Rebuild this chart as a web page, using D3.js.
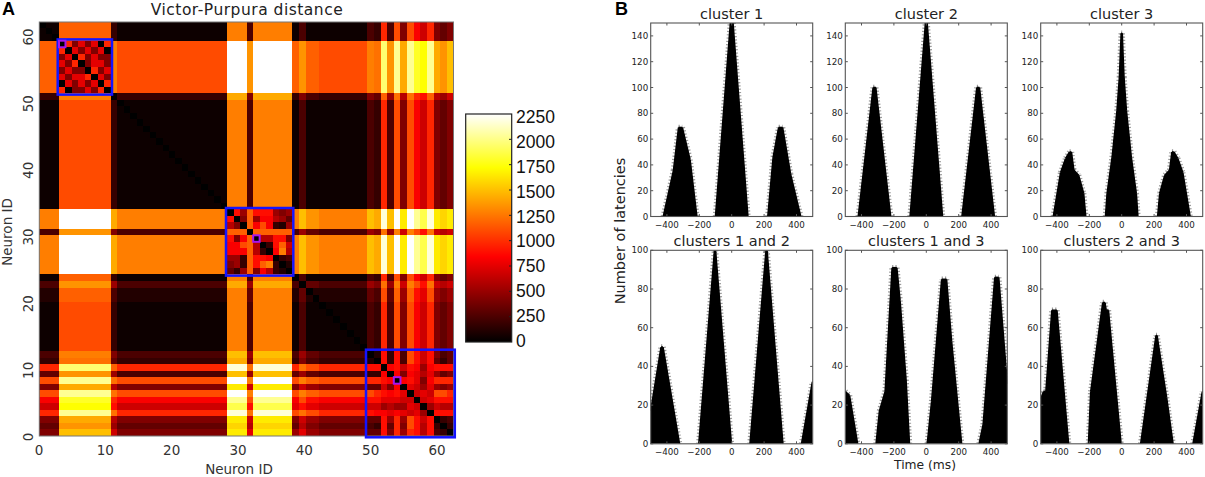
<!DOCTYPE html>
<html>
<head>
<meta charset="utf-8">
<script src="https://cdn.jsdelivr.net/npm/d3@7"></script>
<style>
body { margin: 0; background: #fff; }
svg { display: block; }
</style>
</head>
<body>
<div id="svg_placer"></div>
<script>
var width = 1205, height = 477;

// heatmap cells, top row first, one char per cell
// char = base 31 index into levelValues
var levelValues = [0, 50, 105, 170, 250, 330, 420, 510, 600, 675, 750, 825, 900, 975, 1100, 1170, 1230, 1275, 1350, 1425, 1500, 1575, 1650, 1725, 1800, 1875, 1950, 2025, 2100, 2175, 2250];
var heatRows = [
"011 ffffffff 3 11111111111111111 hhh 4 hhhhhh 1 4 11 1111111 43d4e6eb9d656",
"101 ffffffff 3 11111111111111111 hhh 4 hhhhhh 1 4 11 1111111 43d4e6eb9d656",
"110 ffffffff 3 11111111111111111 hhh 4 hhhhhh 1 4 11 1111111 43d4e6eb9d656",
"fff 0d6a6a0d h eeeeeeeeeeeeeeeee uuu i uuuuuu f i ff eeeeeee hgqirjronrjik",
"fff d0a6a6a0 h eeeeeeeeeeeeeeeee uuu i uuuuuu f i ff eeeeeee hgqirjronrjik",
"fff 6a0d6a66 h eeeeeeeeeeeeeeeee uuu i uuuuuu f i ff eeeeeee hgqirjronrjik",
"fff a6d06aa6 h eeeeeeeeeeeeeeeee uuu i uuuuuu f i ff eeeeeee hgqirjronrjik",
"fff 6a660d6a h eeeeeeeeeeeeeeeee uuu i uuuuuu f i ff eeeeeee hgqirjronrjik",
"fff a6aad0a6 h eeeeeeeeeeeeeeeee uuu i uuuuuu f i ff eeeeeee hgqirjronrjik",
"fff 0a6a6a0d h eeeeeeeeeeeeeeeee uuu i uuuuuu f i ff eeeeeee hgqirjronrjik",
"fff d066a6d0 h eeeeeeeeeeeeeeeee uuu i uuuuuu f i ff eeeeeee hgqirjronrjik",
"333 hhhhhhhh 0 33333333333333333 jjj 6 jjjjjj 3 6 44 3333333 65f7g8gdcf879",
"111 eeeeeeee 3 01111111111111111 hhh 4 hhhhhh 1 4 11 1111111 43d4e6eb9d656",
"111 eeeeeeee 3 10111111111111111 hhh 4 hhhhhh 1 4 11 1111111 43d4e6eb9d656",
"111 eeeeeeee 3 11011111111111111 hhh 4 hhhhhh 1 4 11 1111111 43d4e6eb9d656",
"111 eeeeeeee 3 11101111111111111 hhh 4 hhhhhh 1 4 11 1111111 43d4e6eb9d656",
"111 eeeeeeee 3 11110111111111111 hhh 4 hhhhhh 1 4 11 1111111 43d4e6eb9d656",
"111 eeeeeeee 3 11111011111111111 hhh 4 hhhhhh 1 4 11 1111111 43d4e6eb9d656",
"111 eeeeeeee 3 11111101111111111 hhh 4 hhhhhh 1 4 11 1111111 43d4e6eb9d656",
"111 eeeeeeee 3 11111110111111111 hhh 4 hhhhhh 1 4 11 1111111 43d4e6eb9d656",
"111 eeeeeeee 3 11111111011111111 hhh 4 hhhhhh 1 4 11 1111111 43d4e6eb9d656",
"111 eeeeeeee 3 11111111101111111 hhh 4 hhhhhh 1 4 11 1111111 43d4e6eb9d656",
"111 eeeeeeee 3 11111111110111111 hhh 4 hhhhhh 1 4 11 1111111 43d4e6eb9d656",
"111 eeeeeeee 3 11111111111011111 hhh 4 hhhhhh 1 4 11 1111111 43d4e6eb9d656",
"111 eeeeeeee 3 11111111111101111 hhh 4 hhhhhh 1 4 11 1111111 43d4e6eb9d656",
"111 eeeeeeee 3 11111111111110111 hhh 4 hhhhhh 1 4 11 1111111 43d4e6eb9d656",
"111 eeeeeeee 3 11111111111111011 hhh 4 hhhhhh 1 4 11 1111111 43d4e6eb9d656",
"111 eeeeeeee 3 11111111111111101 hhh 4 hhhhhh 1 4 11 1111111 43d4e6eb9d656",
"111 eeeeeeee 3 11111111111111110 hhh 4 hhhhhh 1 4 11 1111111 43d4e6eb9d656",
"hhh uuuuuuuu j hhhhhhhhhhhhhhhhh 0c7fccc767 h k ii hhhhhhh kjtkumurptmlm",
"hhh uuuuuuuu j hhhhhhhhhhhhhhhhh c06f7bb875 h k ii hhhhhhh kjtkumurptmlm",
"hhh uuuuuuuu j hhhhhhhhhhhhhhhhh 860fbeb327 h k ii hhhhhhh kjtkumurptmlm",
"444 iiiiiiii 6 44444444444444444 fff0ffffff 4 7 55 4444444 76g7h9hecg989",
"hhh uuuuuuuu j hhhhhhhhhhhhhhhhh c6bf088cc6 h k ii hhhhhhh kjtkumurptmlm",
"hhh uuuuuuuu j hhhhhhhhhhhhhhhhh bbef803cf9 h k ii hhhhhhh kjtkumurptmlm",
"hhh uuuuuuuu j hhhhhhhhhhhhhhhhh bbbf830bh8 h k ii hhhhhhh kjtkumurptmlm",
"hhh uuuuuuuu j hhhhhhhhhhhhhhhhh 773fccb034 h k ii hhhhhhh kjtkumurptmlm",
"hhh uuuuuuuu j hhhhhhhhhhhhhhhhh 673fcfh302 h k ii hhhhhhh kjtkumurptmlm",
"hhh uuuuuuuu j hhhhhhhhhhhhhhhhh 537f6b8320 h k ii hhhhhhh kjtkumurptmlm",
"111 ffffffff 3 11111111111111111 hhh 4 hhhhhh 0 4 11 1111111 43d4e6eb9d656",
"444 iiiiiiii 7 44444444444444444 jjj 7 jjjjjj 4 0 55 4444444 76g7h9hecg989",
"222 ffffffff 4 22222222222222222 hhh 5 hhhhhh 2 5 02 2222222 54e5f7fcae767",
"222 ffffffff 4 22222222222222222 hhh 5 hhhhhh 2 5 20 2222222 54e5f7fcae767",
"111 eeeeeeee 3 11111111111111111 hhh 4 hhhhhh 1 4 11 0111111 43d4e6eb9d656",
"111 eeeeeeee 3 11111111111111111 hhh 4 hhhhhh 1 4 11 1011111 43d4e6eb9d656",
"111 eeeeeeee 3 11111111111111111 hhh 4 hhhhhh 1 4 11 1101111 43d4e6eb9d656",
"111 eeeeeeee 3 11111111111111111 hhh 4 hhhhhh 1 4 11 1110111 43d4e6eb9d656",
"111 eeeeeeee 3 11111111111111111 hhh 4 hhhhhh 1 4 11 1111011 43d4e6eb9d656",
"111 eeeeeeee 3 11111111111111111 hhh 4 hhhhhh 1 4 11 1111101 43d4e6eb9d656",
"111 eeeeeeee 3 11111111111111111 hhh 4 hhhhhh 1 4 11 1111110 43d4e6eb9d656",
"444 hhhhhhhh 6 44444444444444444 kkk 7 kkkkkk 4 7 55 4444444 02c3c4ec9c645",
"333 gggggggg 5 33333333333333333 jjj 6 jjjjjj 3 6 44 3333333 20c3c4ec9c535",
"ddd qqqqqqqq f ddddddddddddddddd ttt g tttttt d g ee ddddddd cc0bc9cb7bccc",
"555 iiiiiiii 7 44444444444444444 kkk 7 kkkkkk 5 7 55 4444444 33b0b6ba8a756",
"eee rrrrrrrr g eeeeeeeeeeeeeeeee uuu h uuuuuu e h ff eeeeeee ddcb0bca6bddd",
"666 jjjjjjjj 8 66666666666666666 mmm 9 mmmmmm 6 9 77 6666666 5596b0a97a767",
"eee rrrrrrrr g eeeeeeeeeeeeeeeee uuu h uuuuuu e h ff eeeeeee edcbca09a9eed",
"bbb oooooooo d bbbbbbbbbbbbbbbbb rrr e rrrrrr b e cc bbbbbbb ccaaa9909accc",
"999 nnnnnnnn c 99999999999999999 ppp c pppppp a c aa 9999999 997877a907988",
"ddd rrrrrrrr g ddddddddddddddddd ttt g tttttt e g ee ddddddd cbbaba9a70ccc",
"666 jjjjjjjj 8 66666666666666666 mmm 9 mmmmmm 6 9 77 6666666 55c7d7ec9c034",
"555 iiiiiiii 7 55555555555555555 lll 8 llllll 5 8 66 5555555 43c5d6ec8c303",
"666 kkkkkkkk 9 66666666666666666 mmm a mmmmmm 7 a 77 6666666 55c6d7dc8c430"
];

// cell index edges of the neuron groups and the pixels where they sit in the picture
var groupEdges = [0, 3, 11, 29, 39, 50, 63];
var groupEdgesX = [39.3, 59, 110.7, 227.3, 292, 367.3, 453.5];
var groupEdgesY = [22, 40.7, 93.3, 209.3, 274.3, 351, 436];

var clusterStart = [3, 29, 50];
var clusterEnd = [11, 39, 63];
var markedCell = [3, 33, 54];

var neuronTicks = [0, 10, 20, 30, 40, 50, 60];
var barTicks = [0, 250, 500, 750, 1000, 1250, 1500, 1750, 2000, 2250];

// histogram outlines, [latency in ms, count]
var panelTitles = ["cluster 1", "cluster 2", "cluster 3", "clusters 1 and 2", "clusters 1 and 3", "clusters 2 and 3"];
var cluster1 = [[-500,0],[-422,0],[-359,36],[-328,69],[-305,69],[-257,44],[-215,0],[-100,0],[-8,150],[8,150],[100,0],[223,0],[256,46],[290,69],[314,69],[363,33],[426,0],[500,0]];
var cluster2 = [[-500,0],[-420,0],[-328,100],[-312,100],[-220,0],[-100,0],[-5,150],[5,150],[100,0],[220,0],[312,100],[328,100],[420,0],[500,0]];
var cluster3 = [[-500,0],[-422,0],[-377,34],[-346,45],[-322,50],[-310,50],[-296,36],[-266,32],[-235,18],[-222,0],[-100,0],[-90,18],[-59,46],[-29,82],[-14,108],[-3,142],[3,142],[14,108],[29,82],[59,46],[90,18],[100,0],[222,0],[235,18],[266,32],[296,36],[310,50],[322,50],[346,45],[377,34],[422,0],[500,0]];
var clusters12 = [[-500,17],[-436,50],[-424,50],[-322,0],[-203,0],[-106,100],[-100,100],[-2,0],[113,0],[212,100],[218,100],[316,0],[431,0],[498,32],[500,32]];
var clusters13 = [[-500,27],[-474,25],[-424,0],[-310,0],[-289,17],[-254,27],[-211,91],[-182,91],[-162,74],[-125,33],[-104,0],[6,0],[33,22],[95,85],[125,85],[156,53],[218,0],[326,0],[351,10],[423,86],[447,86],[500,31]];
var clusters23 = [[-500,23],[-482,27],[-468,27],[-431,69],[-400,69],[-328,0],[-205,0],[-191,27],[-117,73],[-103,73],[-97,69],[-82,69],[-4,0],[117,0],[212,56],[218,56],[277,24],[317,0],[440,0],[498,27],[500,27]];
var panelData = [cluster1, cluster2, cluster3, clusters12, clusters13, clusters23];

var panelLeft = [650.7, 845.3, 1040.7, 650.7, 845.3, 1040.7];
var panelTop = [23, 23, 23, 250.3, 250.3, 250.3];
var panelMax = [150, 150, 150, 100, 100, 100];
var panelYTicks = [
  [0, 20, 40, 60, 80, 100, 120, 140], [0, 20, 40, 60, 80, 100, 120, 140], [0, 20, 40, 60, 80, 100, 120, 140],
  [0, 20, 40, 60, 80, 100], [0, 20, 40, 60, 80, 100], [0, 20, 40, 60, 80, 100]
];
var timeTicks = [-400, -200, 0, 200, 400];

var panelW = 162, panelH = 193.5;
var sans = "'DejaVu Sans', sans-serif";

var svg = d3.select('#svg_placer').append('svg').attr('width', width).attr('height', height);
var defs = svg.append('defs');

// the reference is a soft scan, a small blur gets the same look
defs.append('filter').attr('id', 'soft').append('feGaussianBlur').attr('stdDeviation', 0.45);

// same shape as the "hot" colormap in the colorbar
var hot = d3.scaleLinear()
  .domain([0, 840, 1720, 2250])
  .range(['#000000', '#ff0000', '#ffff00', '#ffffff'])
  .clamp(true);

var cellX = d3.scaleLinear().domain(groupEdges).range(groupEdgesX);
var cellY = d3.scaleLinear().domain(groupEdges).range(groupEdgesY);

var cells = [];
heatRows.forEach(function(row, r) {
  row.replace(/ /g, '').split('').forEach(function(ch, c) {
    cells.push({ r: r, c: c, value: levelValues[parseInt(ch, 31)] });
  });
});

var heat = svg.append('g').attr('class', 'heat')
  .attr('filter', 'url(#soft)')
  .attr('shape-rendering', 'crispEdges');
heat.selectAll('rect')
  .data(cells)
  .enter().append('rect')
  .attr('x', function(d) { return cellX(d.c); })
  .attr('y', function(d) { return cellY(d.r); })
  .attr('width', function(d) { return cellX(d.c + 1) - cellX(d.c) + 0.4; })
  .attr('height', function(d) { return cellY(d.r + 1) - cellY(d.r) + 0.4; })
  .style('fill', function(d) { return hot(d.value); });

svg.append('rect')
  .attr('x', 39.3).attr('y', 22).attr('width', 414.2).attr('height', 414)
  .style('fill', 'none').style('stroke', '#777').style('stroke-width', 1);

// cluster boxes
clusterStart.forEach(function(s, i) {
  var pad = 1.3;
  svg.append('rect')
    .attr('x', cellX(s) - pad)
    .attr('y', cellY(s) - pad)
    .attr('width', cellX(clusterEnd[i]) - cellX(s) + 2 * pad)
    .attr('height', cellY(clusterEnd[i]) - cellY(s) + 2 * pad)
    .style('fill', 'none').style('stroke', '#1414ff').style('stroke-width', 2.5);
  var m = markedCell[i];
  svg.append('rect')
    .attr('x', cellX(m))
    .attr('y', cellY(m))
    .attr('width', cellX(m + 1) - cellX(m))
    .attr('height', cellY(m + 1) - cellY(m))
    .style('fill', 'none').style('stroke', '#a614f0').style('stroke-width', 2);
});

// heatmap axes
var tickX = d3.scaleLinear().domain([0, 60]).range([39, 437]);
var tickY = d3.scaleLinear().domain([0, 60]).range([437, 37]);

neuronTicks.forEach(function(t) {
  svg.append('text').attr('x', tickX(t)).attr('y', 455)
    .attr('text-anchor', 'middle')
    .style('font', '13.5px ' + sans).style('fill', '#333').text(t);
  svg.append('text')
    .attr('transform', 'translate(33,' + tickY(t) + ') rotate(-90)')
    .attr('text-anchor', 'middle')
    .style('font', '13.5px ' + sans).style('fill', '#333').text(t);
});

svg.append('text').attr('x', 239).attr('y', 474).attr('text-anchor', 'middle')
  .style('font', '13.5px ' + sans).style('fill', '#333').text('Neuron ID');
svg.append('text').attr('transform', 'translate(12,232) rotate(-90)').attr('text-anchor', 'middle')
  .style('font', '13.5px ' + sans).style('fill', '#333').text('Neuron ID');
svg.append('text').attr('x', 247).attr('y', 15).attr('text-anchor', 'middle')
  .style('font', '15.5px ' + sans).style('letter-spacing', '0.5px').style('fill', '#222').text('Victor-Purpura distance');

svg.append('text').attr('x', 2).attr('y', 15)
  .style('font', "bold 18px 'Liberation Sans', sans-serif").text('A');
svg.append('text').attr('x', 615).attr('y', 15)
  .style('font', "bold 18px 'Liberation Sans', sans-serif").text('B');

// colorbar
var barY = d3.scaleLinear().domain([0, 2250]).range([342, 114]);
var barLabelY = d3.scaleLinear().domain([0, 2250]).range([341, 117]);
var grad = defs.append('linearGradient')
  .attr('id', 'hotgrad').attr('x1', 0).attr('x2', 0).attr('y1', 1).attr('y2', 0);
hot.domain().forEach(function(v) {
  grad.append('stop').attr('offset', v / 2250).attr('stop-color', hot(v));
});
svg.append('rect')
  .attr('x', 465.7).attr('y', barY(2250)).attr('width', 46).attr('height', barY(0) - barY(2250))
  .style('fill', 'url(#hotgrad)').style('stroke', '#222').style('stroke-width', 1.2);
barTicks.forEach(function(t) {
  if (t > 0 && t < 2250) {
    svg.append('line').attr('x1', 509).attr('x2', 511.7).attr('y1', barY(t)).attr('y2', barY(t))
      .style('stroke', '#222').style('stroke-width', 1);
  }
  svg.append('text').attr('x', 516).attr('y', barLabelY(t) + 6)
    .style('font', "17.5px 'Liberation Sans', sans-serif").style('fill', '#111').text(t);
});

// histogram panels
var tickFont = "8.7px " + sans;
panelData.forEach(function(data, i) {
  var g = svg.append('g').attr('class', 'panel');
  var x = d3.scaleLinear().domain([-500, 500]).range([panelLeft[i], panelLeft[i] + panelW]);
  var y = d3.scaleLinear().domain([0, panelMax[i]]).range([panelTop[i] + panelH, panelTop[i]]);

  var area = d3.area()
    .x(function(d) { return x(d[0]); })
    .y0(y(0))
    .y1(function(d) { return y(d[1]); });
  var line = d3.line()
    .x(function(d) { return x(d[0]); })
    .y(function(d) { return y(d[1]); });

  g.append('clipPath').attr('id', 'clip' + i).append('rect')
    .attr('x', panelLeft[i]).attr('y', panelTop[i]).attr('width', panelW).attr('height', panelH);

  // edges only, no caps along the empty baseline
  var edges = d3.pairs(data).filter(function(p) { return p[0][1] > 0 || p[1][1] > 0; });

  var clip = g.append('g').attr('clip-path', 'url(#clip' + i + ')');
  var body = clip.append('g').attr('filter', 'url(#soft)');
  body.selectAll('path.cap').data(edges).enter().append('path').attr('class', 'cap')
    .attr('d', line)
    .style('fill', 'none').style('stroke', '#9a9a9a').style('stroke-width', 5.5)
    .style('stroke-dasharray', '1.2 2.1');
  body.selectAll('path.bar').data(edges).enter().append('path').attr('class', 'bar')
    .attr('d', line)
    .style('fill', 'none').style('stroke', '#000').style('stroke-width', 1.6);
  body.append('path').datum(data).attr('d', area).style('fill', '#000');

  g.append('rect')
    .attr('x', panelLeft[i]).attr('y', panelTop[i]).attr('width', panelW).attr('height', panelH)
    .style('fill', 'none').style('stroke', '#555').style('stroke-width', 1.1);

  timeTicks.forEach(function(t) {
    g.append('line').attr('x1', x(t)).attr('x2', x(t)).attr('y1', y(0)).attr('y2', y(0) - 2.5).style('stroke', '#555');
    g.append('line').attr('x1', x(t)).attr('x2', x(t)).attr('y1', panelTop[i]).attr('y2', panelTop[i] + 2.5).style('stroke', '#555');
    g.append('text').attr('x', x(t)).attr('y', y(0) + 11.5).attr('text-anchor', 'middle')
      .style('font', tickFont).style('fill', '#222').text(t < 0 ? '\u2212' + (-t) : t);
  });
  panelYTicks[i].forEach(function(t) {
    g.append('line').attr('x1', panelLeft[i]).attr('x2', panelLeft[i] + 2.5).attr('y1', y(t)).attr('y2', y(t)).style('stroke', '#555');
    g.append('line').attr('x1', panelLeft[i] + panelW).attr('x2', panelLeft[i] + panelW - 2.5).attr('y1', y(t)).attr('y2', y(t)).style('stroke', '#555');
    g.append('text').attr('x', panelLeft[i] - 2.5).attr('y', y(t) + 3).attr('text-anchor', 'end')
      .style('font', tickFont).style('fill', '#222').text(t);
  });

  g.append('text').attr('x', panelLeft[i] + panelW / 2).attr('y', panelTop[i] - 4.5).attr('text-anchor', 'middle')
    .style('font', '14.5px ' + sans).style('fill', '#222').text(panelTitles[i]);
});

svg.append('text').attr('transform', 'translate(625,231) rotate(-90)').attr('text-anchor', 'middle')
  .style('font', '14.5px ' + sans).style('fill', '#222').text('Number of latencies');
svg.append('text').attr('x', 925).attr('y', 469).attr('text-anchor', 'middle')
  .style('font', '12.3px ' + sans).style('fill', '#222').text('Time (ms)');
</script>
</body>
</html>
